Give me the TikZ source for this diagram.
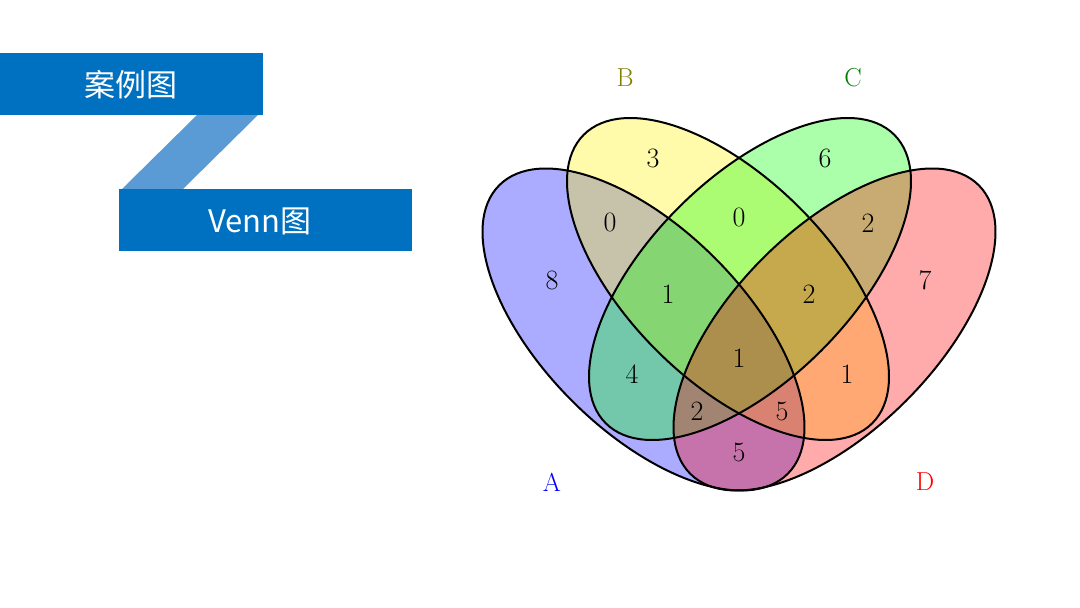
\documentclass[tikz,border=0pt]{standalone}
\usepackage{fontspec}
\newfontfamily\cjk{Noto Sans CJK SC}
\usepackage{xcolor}
\usepackage{tikz}
\definecolor{banner_dark}{RGB}{0,112,192}
\definecolor{banner_light}{RGB}{91,155,213}
\definecolor{label_olive}{RGB}{128,128,0}
\definecolor{label_green}{RGB}{0,128,0}
\tikzset{
    banner_box/.style = {rectangle, fill=banner_dark, inner sep=0pt, minimum height=62pt},
    banner_text/.style = {inner sep=0pt, text=white, font=\cjk\fontsize{31}{31}\selectfont},
    set_fill/.style = {fill=#1, fill opacity=0.33, draw=none},
    set_line/.style = {draw=black, line width=2pt},
    num/.style = {inner sep=0pt, font=\fontsize{28}{28}\selectfont},
    set_label/.style = {inner sep=0pt, text=#1, font=\fontsize{26}{26}\selectfont}
}

\begin{document}
\begin{tikzpicture}[x=1pt, y=-1pt]
    \useasboundingbox (0,0) rectangle (1080,608);
    \fill[banner_light] (197,115) -- (258,115) -- (183,189) -- (122,189) -- cycle;
    \node [banner_box, minimum width=263pt] (title) at (131.5,84) {};
    \node [banner_box, minimum width=293pt] (subtitle) at (265.5,220) {};
    \node [banner_text] (title_text) at (130.5,85) {案例图};
    \node [banner_text] (subtitle_text) at (260,221) {Venn图};

    \coordinate (c_a) at (643.5,329.5);
    \coordinate (c_b) at (728,279);
    \coordinate (c_c) at (750,279);
    \coordinate (c_d) at (834.5,329.5);
    \foreach \c/\ang/\col in {c_a/-45/blue, c_b/-45/yellow, c_c/45/green, c_d/45/red}
        \fill [set_fill=\col, rotate around={\ang:(\c)}] (\c) ellipse [x radius=204pt, y radius=101pt];
    \foreach \c/\ang in {c_a/-45, c_b/-45, c_c/45, c_d/45}
        \draw [set_line, rotate around={\ang:(\c)}] (\c) ellipse [x radius=204pt, y radius=101pt];

    \node [set_label=blue] (lab_a) at (552,482) {A};
    \node [set_label=label_olive] (lab_b) at (625,78) {B};
    \node [set_label=label_green] (lab_c) at (853,78) {C};
    \node [set_label=red] (lab_d) at (925,482) {D};

    \node [num] (n_a) at (552,280) {8};
    \node [num] (n_b) at (653,158) {3};
    \node [num] (n_c) at (825,158) {6};
    \node [num] (n_d) at (925,280) {7};
    \node [num] (n_ab) at (610,222) {0};
    \node [num] (n_bc) at (739,217) {0};
    \node [num] (n_cd) at (868,223) {2};
    \node [num] (n_abc) at (668,294) {1};
    \node [num] (n_bcd) at (809,294) {2};
    \node [num] (n_abcd) at (739,358) {1};
    \node [num] (n_ac) at (632,374) {4};
    \node [num] (n_bd) at (847,374) {1};
    \node [num] (n_acd) at (697,411) {2};
    \node [num] (n_abd) at (782,411) {5};
    \node [num] (n_ad) at (739,452) {5};
\end{tikzpicture}
\end{document}
